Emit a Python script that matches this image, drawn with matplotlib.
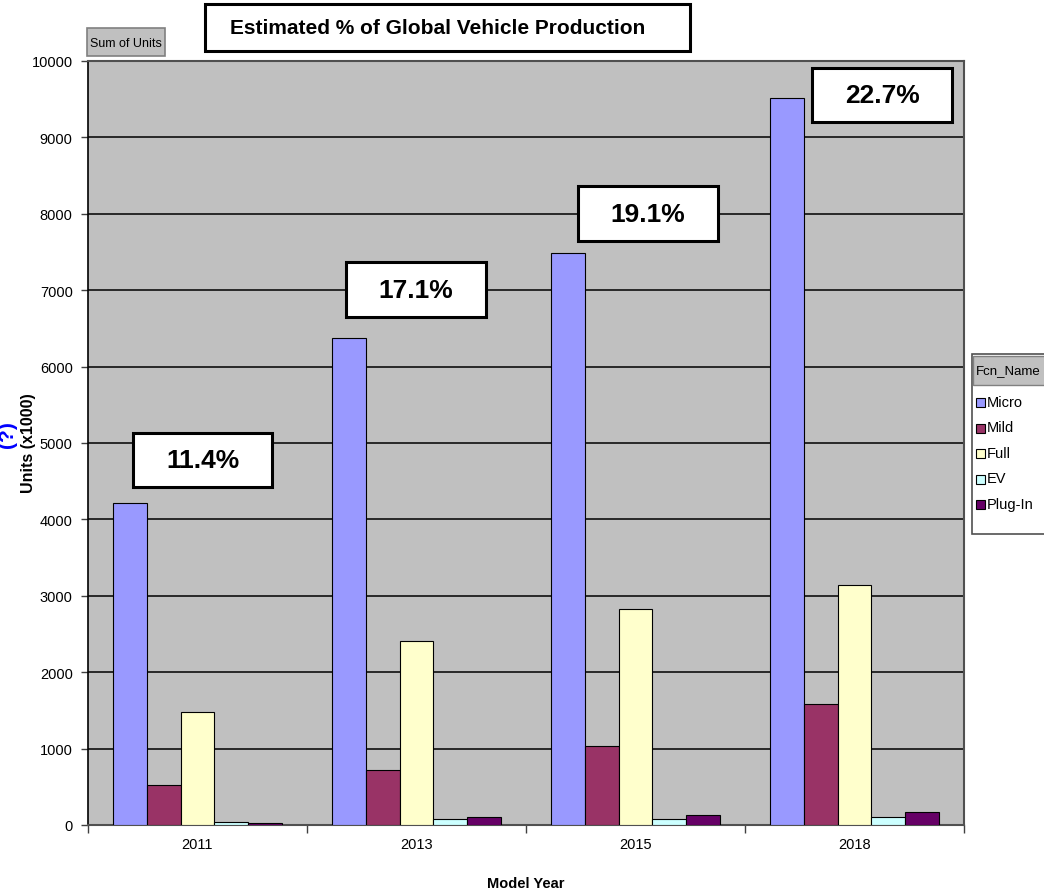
import matplotlib
matplotlib.use("Agg")
import matplotlib.pyplot as plt
from matplotlib.patches import Rectangle
import numpy as np

years = ["2011", "2013", "2015", "2018"]
series = ["Micro", "Mild", "Full", "EV", "Plug-In"]
micro = [4220, 6380, 7490, 9520]
mild = [520, 720, 1030, 1580]
full = [1480, 2410, 2830, 3140]
ev = [45, 75, 85, 110]
plug_in = [20, 110, 130, 170]
shares = ["11.4%", "17.1%", "19.1%", "22.7%"]
colors = ["#9999FF", "#993366", "#FFFFCC", "#CCFFFF", "#660066"]

W, H = 1044, 895
plt.rcParams["font.family"] = ["Liberation Sans", "DejaVu Sans"]
SMALL = 10.5

fig = plt.figure(figsize=(W / 100, H / 100), dpi=100)

def fx(px):
    return px / W

def fy(py):
    return 1 - py / H

ax = fig.add_axes([fx(88), fy(826), fx(964) - fx(88), fy(62) - fy(826)])
ax.set_facecolor("#C0C0C0")

x = np.arange(len(years))
bw = 0.155
values = [micro, mild, full, ev, plug_in]
for i, (name, vals, c) in enumerate(zip(series, values, colors)):
    ax.bar(x + (i - 2) * bw, vals, width=bw, color=c, edgecolor="black",
           linewidth=0.8, label=name, zorder=3)

ax.set_xlim(-0.5, 3.5)
ax.set_ylim(0, 10000)
ax.set_yticks(np.arange(0, 10001, 1000))
ax.yaxis.grid(True, color="black", linewidth=1.1, zorder=1)
ax.set_axisbelow(True)
ax.set_xticks([-0.5, 0.5, 1.5, 2.5, 3.5])
ax.set_xticklabels([])
ax.set_xticks(x, minor=True)
ax.set_xticklabels(years, minor=True, fontsize=SMALL)
ax.tick_params(axis="x", which="major", length=6, width=1, color="#404040")
ax.tick_params(axis="x", which="minor", length=0, pad=9)
ax.tick_params(axis="y", length=5, width=1, color="#404040", pad=6, labelsize=SMALL)
for s in ["top", "right", "bottom"]:
    ax.spines[s].set_color("#505050")
    ax.spines[s].set_linewidth(1.5)
ax.spines["left"].set_color("black")
ax.spines["left"].set_linewidth(1.2)

ax.set_xlabel("Model Year", fontweight="bold", fontsize=10.5, labelpad=18)
fig.text(fx(28), fy(443), "Units (x1000)", rotation=90, fontweight="bold",
         fontsize=11.5, ha="center", va="center")
fig.text(fx(8), fy(435), "(?)", rotation=90, fontweight="bold", color="#0000FF",
         fontsize=15, ha="center", va="center")

# percentage boxes
boxes = [(133, 434, 272, 488), (346, 263, 486, 318), (578, 187, 718, 242), (812, 69, 952, 123)]
for (x0, y0, x1, y1), s in zip(boxes, shares):
    fig.patches.append(Rectangle((fx(x0), fy(y1)), fx(x1) - fx(x0), fy(y0) - fy(y1),
                                 transform=fig.transFigure, facecolor="white",
                                 edgecolor="black", linewidth=2.2, zorder=5))
    fig.text(fx((x0 + x1) / 2), fy((y0 + y1) / 2), s, fontweight="bold", fontsize=19,
             ha="center", va="center", zorder=6)

# title box
fig.patches.append(Rectangle((fx(205), fy(52)), fx(690) - fx(205), fy(5) - fy(52),
                             transform=fig.transFigure, facecolor="white",
                             edgecolor="black", linewidth=2.2))
fig.text(fx(438), fy(29), "Estimated % of Global Vehicle Production", fontweight="bold",
         fontsize=15, ha="center", va="center")

# "Sum of Units" field button
fig.patches.append(Rectangle((fx(87), fy(57)), fx(165) - fx(87), fy(29) - fy(57),
                             transform=fig.transFigure, facecolor="#C0C0C0",
                             edgecolor="#808080", linewidth=1.2))
fig.text(fx(126), fy(44), "Sum of Units", fontsize=9, ha="center", va="center")

# legend
fig.patches.append(Rectangle((fx(972), fy(535)), fx(1050) - fx(972), fy(355) - fy(535),
                             transform=fig.transFigure, facecolor="white",
                             edgecolor="#505050", linewidth=1.2))
fig.patches.append(Rectangle((fx(973), fy(386)), fx(1050) - fx(973), fy(357) - fy(386),
                             transform=fig.transFigure, facecolor="#C0C0C0",
                             edgecolor="#808080", linewidth=1.0))
fig.text(fx(976), fy(371), "Fcn_Name", fontsize=9.5, ha="left", va="center")
for i, (name, c) in enumerate(zip(series, colors)):
    yc = 403 + i * 25.5
    fig.patches.append(Rectangle((fx(976), fy(yc + 5)), fx(985) - fx(976), fy(yc - 4) - fy(yc + 5),
                                 transform=fig.transFigure, facecolor=c,
                                 edgecolor="black", linewidth=0.8))
    fig.text(fx(987), fy(yc), name, fontsize=SMALL, ha="left", va="center")

fig.savefig("out.png", dpi=100)
